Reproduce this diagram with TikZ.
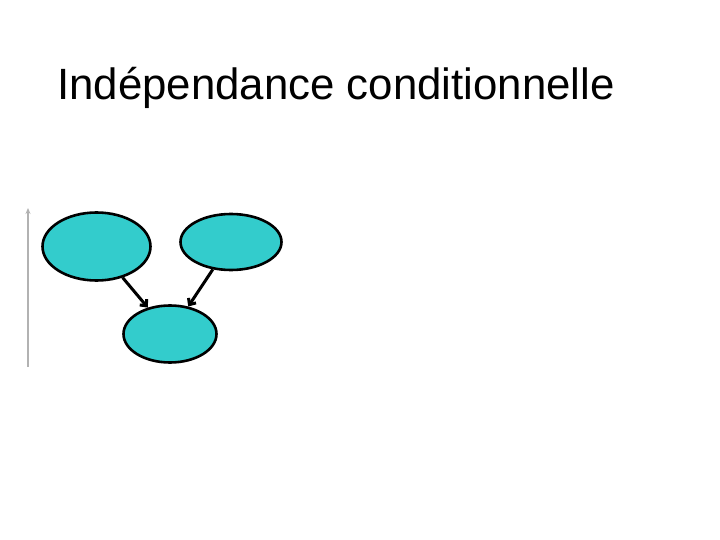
\documentclass[tikz,border=0pt]{standalone}
\usepackage{fontspec}
\setmainfont{Liberation Sans}
\usetikzlibrary{shapes.geometric,arrows.meta}
\definecolor{nodecyan}{HTML}{33CCCC}
\tikzset{
  var/.style={ellipse, draw=black, line width=2.6pt, fill=nodecyan, inner sep=0pt},
  edge/.style={line width=3pt, -{Straight Barb[length=5pt,width=9pt]}},
}
\begin{document}
\begin{tikzpicture}[x=1pt,y=-1pt]
\useasboundingbox (0,0) rectangle (720,540);
\node[anchor=base west, inner sep=0pt, font=\fontsize{43.8}{48}\selectfont] (title) at (57,100) {Indépendance conditionnelle};
\node[var, minimum width=108pt, minimum height=68pt] (a) at (96.5,246.5) {};
\node[var, minimum width=101pt, minimum height=56pt] (b) at (231,242) {};
\node[var, minimum width=93pt, minimum height=57pt] (c) at (170,334) {};
\draw[edge] (a) -- (c);
\draw[edge] (b) -- (c);
\coordinate (g1) at (28,367);
\coordinate (g2) at (28,208);
\draw[gray!60, line width=1.8pt, -{Stealth[length=6pt,width=5pt]}] (g1) -- (g2);
\end{tikzpicture}
\end{document}
